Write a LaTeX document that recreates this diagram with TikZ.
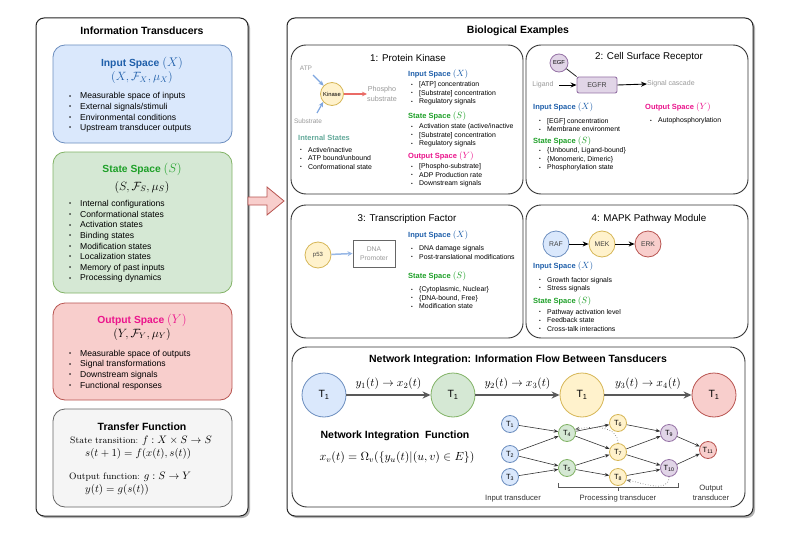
\RequirePackage{fix-cm}
\documentclass[tikz,border=0pt]{standalone}
\usepackage{fontspec}
\setmainfont{Liberation Sans}
\newfontfamily\cmr{Latin Modern Roman}
\usetikzlibrary{arrows.meta}
\definecolor{blueF}{HTML}{DAE8FC}\definecolor{blueD}{HTML}{6C8EBF}
\definecolor{greenF}{HTML}{D5E8D4}\definecolor{greenD}{HTML}{82B366}
\definecolor{yellowF}{HTML}{FFF2CC}\definecolor{yellowD}{HTML}{D6B656}
\definecolor{redF}{HTML}{F8CECC}\definecolor{redD}{HTML}{B85450}
\definecolor{purpleF}{HTML}{E1D5E7}\definecolor{purpleD}{HTML}{9673A6}
\definecolor{grayF}{HTML}{F5F5F5}\definecolor{grayD}{HTML}{666666}
\definecolor{tblue}{RGB}{31,95,170}
\definecolor{tgreen}{RGB}{30,160,40}
\definecolor{tpink}{RGB}{235,20,140}
\definecolor{tteal}{RGB}{100,170,155}
\definecolor{lgray}{HTML}{999999}
\definecolor{abl}{HTML}{7EA6E0}
\definecolor{ared}{HTML}{EA6B66}
\newcommand\fs[2]{\fontsize{#1}{#2}\selectfont}
\newcommand\bl[1]{\makebox[#1][l]{\raisebox{0.15ex}{\scalebox{0.7}{\textbullet}}}}
\newcommand\bbig{\bl{11pt}}
\newcommand\bsml{\bl{8pt}}
\begin{document}
\begin{tikzpicture}[x=1pt,y=-1pt,
  panel/.style={draw=black!85, line width=1pt, rounded corners=8pt, fill=white},
  shad/.style={fill=black!30, rounded corners=8pt},
  subp/.style={draw=black!80, line width=0.9pt, rounded corners=15pt},
  box/.style={rounded corners=12pt, line width=0.8pt},
  lst/.style={anchor=west, inner sep=0, align=left, font=\fs{8.6}{10.6}},
  slst/.style={anchor=west, inner sep=0, align=left, font=\fs{6.9}{8.5}},
  bigttl/.style={font=\fs{10.5}{12}\bfseries, inner sep=0},
  ptitle/.style={font=\fs{9.8}{11}, inner sep=0},
  shead/.style={anchor=west, inner sep=0, font=\fs{7.5}{8}\bfseries},
  lbl/.style={inner sep=0, text=lgray, font=\fs{6.5}{8}, align=center},
  bnode/.style={circle, inner sep=0, minimum size=44pt, line width=0.8pt, font=\fs{10.5}{12}},
  snode/.style={circle, inner sep=0, minimum size=17pt, line width=0.8pt, font=\fs{7.5}{8}},
  mnode/.style={circle, inner sep=0, minimum size=26pt, line width=0.8pt, font=\fs{6.8}{8}, text=black!75},
  bluec/.style={fill=blueF, draw=blueD},
  greenc/.style={fill=greenF, draw=greenD},
  yellowc/.style={fill=yellowF, draw=yellowD},
  redc/.style={fill=redF, draw=redD},
  purplec/.style={fill=purpleF, draw=purpleD},
  flow/.style={draw=black!65, line width=1.8pt, -{Stealth[length=8pt,width=7pt]}},
  sedge/.style={draw=black!80, line width=0.6pt, -{Stealth[length=4.5pt,width=3.5pt]}},
  dedge/.style={draw=black!60, line width=0.6pt, dotted, -{Stealth[length=4.5pt,width=3.5pt]}},
  karrow/.style={draw=black, line width=0.9pt, -{Stealth[length=6pt,width=5pt]}},
  bottlbl/.style={inner sep=0, font=\fs{7.7}{10}, text=black!80, align=center}
]
\useasboundingbox (0,0) rectangle (793,543);

% ---------------- left panel
\fill[shad] (38,20) rectangle (250,518);
\draw[panel] (36,18) rectangle (248,516);
\node[bigttl] (lt) at (142,31) {Information Transducers};

\draw[box, bluec] (53,45) rectangle (232,143);
\node[inner sep=0, text=tblue] (inT) at (142,63) {\fs{10.3}{12}\bfseries Input Space {\fs{12.5}{14}$(X)$}};
\node[inner sep=0, text=tblue, font=\fs{12}{14}] (inM) at (142,78) {$(X,\mathcal{F}_X,\mu_X)$};
\node[lst] (inL) at (69,112.5) {\bbig Measurable space of inputs\\ \bbig External signals/stimuli\\ \bbig Environmental conditions\\ \bbig Upstream transducer outputs};

\draw[box, greenc] (53,152) rectangle (232,293);
\node[inner sep=0, text=tgreen] (stT) at (142,169) {\fs{10.3}{12}\bfseries State Space {\fs{12.5}{14}$(S)$}};
\node[inner sep=0, font=\fs{12}{14}] (stM) at (142,187) {$(S,\mathcal{F}_S,\mu_S)$};
\node[lst] (stL) at (69,241.5) {\bbig Internal configurations\\ \bbig Conformational states\\ \bbig Activation states\\ \bbig Binding states\\ \bbig Modification states\\ \bbig Localization states\\ \bbig Memory of past inputs\\ \bbig Processing dynamics};

\draw[box, redc] (53,303) rectangle (232,400);
\node[inner sep=0, text=tpink] (ouT) at (142,320) {\fs{10.3}{12}\bfseries Output Space {\fs{12.5}{14}$(Y)$}};
\node[inner sep=0, font=\fs{12}{14}] (ouM) at (142,334) {$(Y,\mathcal{F}_Y,\mu_Y)$};
\node[lst] (ouL) at (69,370) {\bbig Measurable space of outputs\\ \bbig Signal transformations\\ \bbig Downstream signals\\ \bbig Functional responses};

\draw[box, fill=grayF, draw=grayD] (53,409) rectangle (232,507);
\node[bigttl] (tfT) at (142,427) {Transfer Function};
\node[inner sep=0] (tf1) at (141,441) {{\cmr\fs{9.3}{11}State transition:} {\fs{10.8}{12}$f:X\times S\to S$}};
\node[inner sep=0, anchor=west] (tf2) at (85,454) {\fs{10.8}{12}$s(t+1)=f(x(t),s(t))$};
\node[inner sep=0, anchor=west] (tf3) at (69,477) {{\cmr\fs{9.3}{11}Output function:} {\fs{10.8}{12}$g:S\to Y$}};
\node[inner sep=0, anchor=west] (tf4) at (85,490) {\fs{10.8}{12}$y(t)=g(s(t))$};

% ---------------- big arrow
\draw[fill=redF, draw=redD, line width=0.8pt] (248,197) -- (267,197) -- (267,187) -- (284,201) -- (267,215) -- (267,205) -- (248,205) -- cycle;

% ---------------- right panel
\fill[shad] (289,20) rectangle (755,518);
\draw[panel] (287,18) rectangle (753,516);
\node[bigttl] (rt) at (518,31) {Biological Examples};

% sub 1
\draw[subp] (291,45) rectangle (523,194);
\node[ptitle] (p1) at (408,58) {1: Protein Kinase};
\node[circle, yellowc, minimum size=23pt, inner sep=0, line width=0.8pt, font=\fs{5.8}{7}] (kin) at (332,94) {Kinase};
\node[lbl] (atp) at (306,68) {ATP};
\node[lbl] (sub) at (308,121) {Substrate};
\coordinate (atps) at (313,75);
\coordinate (subs) at (317,113);
\draw[draw=abl, line width=1.2pt, -{Stealth[length=5pt,width=4.5pt]}] (atps) -- (kin.135);
\draw[draw=abl, line width=1.2pt, -{Stealth[length=5pt,width=4.5pt]}] (subs) -- (kin.222);
\node[lbl, font=\fs{7.2}{10}, anchor=west] (phs) at (367,94) {Phospho\\substrate};
\draw[draw=ared, line width=1.2pt, -{Stealth[length=5pt,width=4.5pt]}] (kin.east) -- (phs.west);
\node[shead, text=tteal] (ist) at (298,138) {Internal States};
\node[slst] (istL) at (300,158.5) {\bsml Active/inactive\\ \bsml ATP bound/unbound\\ \bsml Conformational state};
\node[shead, text=tblue] (p1i) at (408,74) {Input Space {\fs{9}{9}$(X)$}};
\node[slst] (p1iL) at (411,93.5) {\bsml [ATP] concentration\\ \bsml [Substrate] concentration\\ \bsml Regulatory signals};
\node[shead, text=tgreen] (p1s) at (408,116) {State Space {\fs{9}{9}$(S)$}};
\node[slst] (p1sL) at (411,135.5) {\bsml Activation state (active/inactive\\ \bsml [Substrate] concentration\\ \bsml Regulatory signals};
\node[shead, text=tpink] (p1o) at (408,156) {Output Space {\fs{9}{9}$(Y)$}};
\node[slst] (p1oL) at (411,175.5) {\bsml [Phospho-substrate]\\ \bsml ADP Production rate\\ \bsml Downstream signals};

% sub 2
\draw[subp] (526,45) rectangle (748,194);
\node[ptitle] (p2) at (649,57) {2: Cell Surface Receptor};
\node[circle, purplec, minimum size=18pt, inner sep=0, line width=0.8pt, font=\fs{5.8}{7}] (egf) at (559,63) {EGF};
\node[rectangle, rounded corners=2pt, purplec, minimum width=40pt, minimum height=16pt, inner sep=0, line width=0.9pt, font=\fs{7}{8}, text=black!75] (egfr) at (597,85) {EGFR};
\draw[black!85, line width=0.8pt] (egf) -- (egfr.north west);
\node[lbl, font=\fs{7}{8}] (lig) at (543,85) {Ligand};
\coordinate (ligs) at (559,85);
\draw[karrow] (ligs) -- (egfr.west);
\node[lbl, font=\fs{7}{8}, anchor=west] (sc) at (647,84) {Signal cascade};
\draw[karrow] (egfr.east) -- (sc.west);
\node[shead, text=tblue] (p2i) at (533,107) {Input Space {\fs{9}{9}$(X)$}};
\node[slst] (p2iL) at (539,125) {\bsml [EGF] concentration\\ \bsml Membrane environment};
\node[shead, text=tgreen] (p2s) at (533,141) {State Space {\fs{9}{9}$(S)$}};
\node[slst] (p2sL) at (539,159.5) {\bsml \{Unbound, Ligand-bound\}\\ \bsml \{Monomeric, Dimeric\}\\ \bsml Phosphorylation state};
\node[shead, text=tpink] (p2o) at (645,107) {Output Space {\fs{9}{9}$(Y)$}};
\node[slst] (p2oL) at (650,121) {\bsml Autophosphorylation};

% sub 3
\draw[subp] (291,205) rectangle (523,338);
\node[ptitle] (p3) at (407,219) {3: Transcription Factor};
\node[mnode, yellowc, font=\fs{6}{7}] (p53) at (318,255) {p53};
\node[draw=grayD, line width=0.9pt, fill=white, minimum width=42pt, minimum height=27pt, inner sep=0, align=center, text=lgray, font=\fs{6.8}{8.5}] (dna) at (374,253.5) {DNA\\Promoter};
\draw[draw=abl!80, line width=1.5pt, -{Stealth[length=5pt,width=5pt]}] (p53) -- (dna.west);
\node[shead, text=tblue] (p3i) at (408,235) {Input Space {\fs{9}{9}$(X)$}};
\node[slst] (p3iL) at (411,252.5) {\bsml DNA damage signals\\ \bsml Post-translational modifications};
\node[shead, text=tgreen] (p3s) at (408,276) {State Space {\fs{9}{9}$(S)$}};
\node[slst] (p3sL) at (411,298) {\bsml \{Cytoplasmic, Nuclear\}\\ \bsml \{DNA-bound, Free\}\\ \bsml Modification state};

% sub 4
\draw[subp] (526,205) rectangle (748,338);
\node[ptitle] (p4) at (649,219) {4: MAPK Pathway Module};
\node[mnode, bluec] (raf) at (556,244) {RAF};
\node[mnode, yellowc] (mek) at (602,244) {MEK};
\node[mnode, redc] (erk) at (648,244) {ERK};
\draw[karrow] (raf) -- (mek);
\draw[karrow] (mek) -- (erk);
\node[shead, text=tblue] (p4i) at (533,266) {Input Space {\fs{9}{9}$(X)$}};
\node[slst] (p4iL) at (539,284.5) {\bsml Growth factor signals\\ \bsml Stress signals};
\node[shead, text=tgreen] (p4s) at (533,301) {State Space {\fs{9}{9}$(S)$}};
\node[slst] (p4sL) at (539,320.5) {\bsml Pathway activation level\\ \bsml Feedback state\\ \bsml Cross-talk interactions};

% network panel
\draw[subp] (292,347) rectangle (745,507);
\node[bigttl] (nt) at (518,360) {Network Integration: Information Flow Between Tansducers};
\node[bnode, bluec] (B1) at (324,395) {T\textsubscript{1}};
\node[bnode, greenc] (B2) at (453,395) {T\textsubscript{1}};
\node[bnode, yellowc] (B3) at (582,395) {T\textsubscript{1}};
\node[bnode, redc] (B4) at (714,395) {T\textsubscript{1}};
\draw[flow] (B1) -- node[above=1pt, font=\fs{11.5}{13}] {$y_1(t)\to x_2(t)$} (B2);
\draw[flow] (B2) -- node[above=1pt, font=\fs{11.5}{13}] {$y_2(t)\to x_3(t)$} (B3);
\draw[flow] (B3) -- node[above=1pt, font=\fs{11.5}{13}] {$y_3(t)\to x_4(t)$} (B4);
\node[bigttl] (nif) at (395,436) {Network Integration\ \ Function};
\node[inner sep=0, font=\fs{11.8}{14}] (nform) at (397,458) {$x_v(t)=\Omega_v(\{y_u(t)|(u,v)\in E\})$};

\node[snode, bluec] (t1) at (510,424) {T\textsubscript{1}};
\node[snode, bluec] (t2) at (510,454) {T\textsubscript{2}};
\node[snode, bluec] (t3) at (510,477) {T\textsubscript{3}};
\node[snode, greenc] (t4) at (567,433) {T\textsubscript{4}};
\node[snode, greenc] (t5) at (567,468) {T\textsubscript{5}};
\node[snode, yellowc] (t6) at (618,423) {T\textsubscript{6}};
\node[snode, yellowc] (t7) at (618,452) {T\textsubscript{7}};
\node[snode, yellowc] (t8) at (618,477) {T\textsubscript{8}};
\node[snode, purplec] (t9) at (669,433) {T\textsubscript{9}};
\node[snode, purplec] (t10) at (669,468) {T\textsubscript{10}};
\node[snode, redc] (t11) at (708,450) {T\textsubscript{11}};
\foreach \a/\b in {t1/t4,t2/t4,t2/t5,t3/t5,t4/t6,t4/t7,t5/t7,t5/t8,t6/t9,t7/t9,t7/t10,t8/t10,t9/t11,t10/t11}
  \draw[sedge] (\a) -- (\b);
\draw[dedge] (t7.north) to[out=90, in=10] (t4.25);
\draw[dedge] (t10.south) to[out=-90, in=-10] (t8.-20);
\draw[black!65, line width=0.7pt] (558,483) -- (558,487) -- (678,487) -- (678,483);
\draw[black!65, line width=0.7pt] (618,487) -- (618,491);
\node[bottlbl] (itr) at (513,499) {Input transducer};
\node[bottlbl] (ptr) at (618,499) {Processing transducer};
\node[bottlbl] (otr) at (711,493) {Output\\transducer};
\end{tikzpicture}
\end{document}
